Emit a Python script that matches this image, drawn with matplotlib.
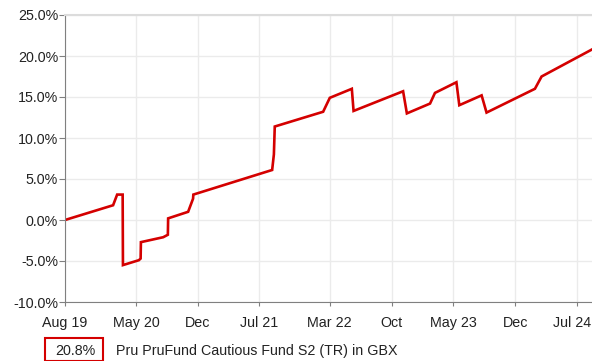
import matplotlib
matplotlib.use("Agg")
import matplotlib.pyplot as plt
import matplotlib.dates as mdates
import matplotlib.transforms as mtransforms
from matplotlib.patches import Rectangle
import numpy as np

plt.rcParams['font.family'] = ['Liberation Sans', 'DejaVu Sans']

# cumulative total return, % since launch of the window
dates = np.array([
    '2019-08-30', '2020-02-12', '2020-02-26', '2020-03-16', '2020-03-17',
    '2020-05-11', '2020-05-17', '2020-05-18', '2020-08-03', '2020-08-19',
    '2020-08-20', '2020-10-28', '2020-11-14', '2020-11-15', '2021-08-14',
    '2021-08-20', '2021-08-23', '2022-02-06', '2022-03-01', '2022-05-16',
    '2022-05-22', '2022-11-09', '2022-11-22', '2023-02-10', '2023-02-27',
    '2023-05-12', '2023-05-22', '2023-08-07', '2023-08-24', '2024-02-07',
    '2024-03-01', '2024-08-22'], dtype='datetime64[D]')
returns = [
    0.0, 1.8, 3.1, 3.1, -5.5,
    -4.9, -4.7, -2.7, -2.1, -1.8,
    0.2, 1.0, 2.6, 3.1, 6.1,
    8.0, 11.4, 13.2, 14.9, 16.0,
    13.3, 15.7, 13.0, 14.2, 15.5,
    16.8, 14.0, 15.2, 13.1, 16.0,
    17.5, 20.8]

tick_dates = np.array(['2019-08-30', '2020-05-01', '2020-12-01', '2021-07-01',
                       '2022-03-01', '2022-10-01', '2023-05-01', '2023-12-01',
                       '2024-07-01'], dtype='datetime64[D]')
tick_labels = ['Aug 19', 'May 20', 'Dec', 'Jul 21', 'Mar 22', 'Oct',
               'May 23', 'Dec', 'Jul 24']
y_ticks = [-10, -5, 0, 5, 10, 15, 20, 25]

series_name = 'Pru PruFund Cautious Fund S2 (TR) in GBX'
red = '#D40000'
fs = 10.3

fig = plt.figure(figsize=(5.92, 3.61), dpi=100)
ax = fig.add_axes([65 / 592, 1 - 302 / 361, 527 / 592, 287 / 361])

ax.plot(dates, returns, color=red, lw=1.9, solid_joinstyle='miter')

ax.set_xlim(dates[0], dates[-1])
ax.set_ylim(-10, 25)
ax.set_yticks(y_ticks)
ax.set_yticklabels([f'{v:.1f}%' for v in y_ticks])
ax.set_xticks(mdates.date2num(tick_dates))
ax.set_xticklabels(tick_labels)

ax.grid(True, color='#EBEBEB', lw=1)
ax.set_axisbelow(True)
ax.spines['right'].set_visible(False)
ax.spines['top'].set_color('#DCDCDC')
ax.spines['top'].set_linewidth(1.5)
ax.spines['left'].set_color('#808080')
ax.spines['bottom'].set_color('#808080')
ax.tick_params(axis='y', length=4, color='#808080', labelsize=fs,
               labelcolor='#222222', pad=1)
ax.tick_params(axis='x', length=3, color='#808080', labelsize=fs,
               labelcolor='#222222', pad=7)

# keep the last date label inside the figure
last = ax.get_xticklabels()[-1]
last.set_transform(last.get_transform() +
                   mtransforms.ScaledTranslation(-5 / 100, 0, fig.dpi_scale_trans))

# legend row below the axes
fig.patches.append(Rectangle((45 / 592, 0), 58 / 592, 23 / 361,
                             transform=fig.transFigure, fill=False,
                             edgecolor=red, lw=1.5))
fig.text(75 / 592, 1 - 351 / 361, f'{returns[-1]:.1f}%', ha='center',
         va='center', fontsize=fs, color='#222222')
fig.text(116 / 592, 1 - 351 / 361, series_name, ha='left', va='center',
         fontsize=fs, color='#222222')

fig.savefig('out.png', dpi=100)
